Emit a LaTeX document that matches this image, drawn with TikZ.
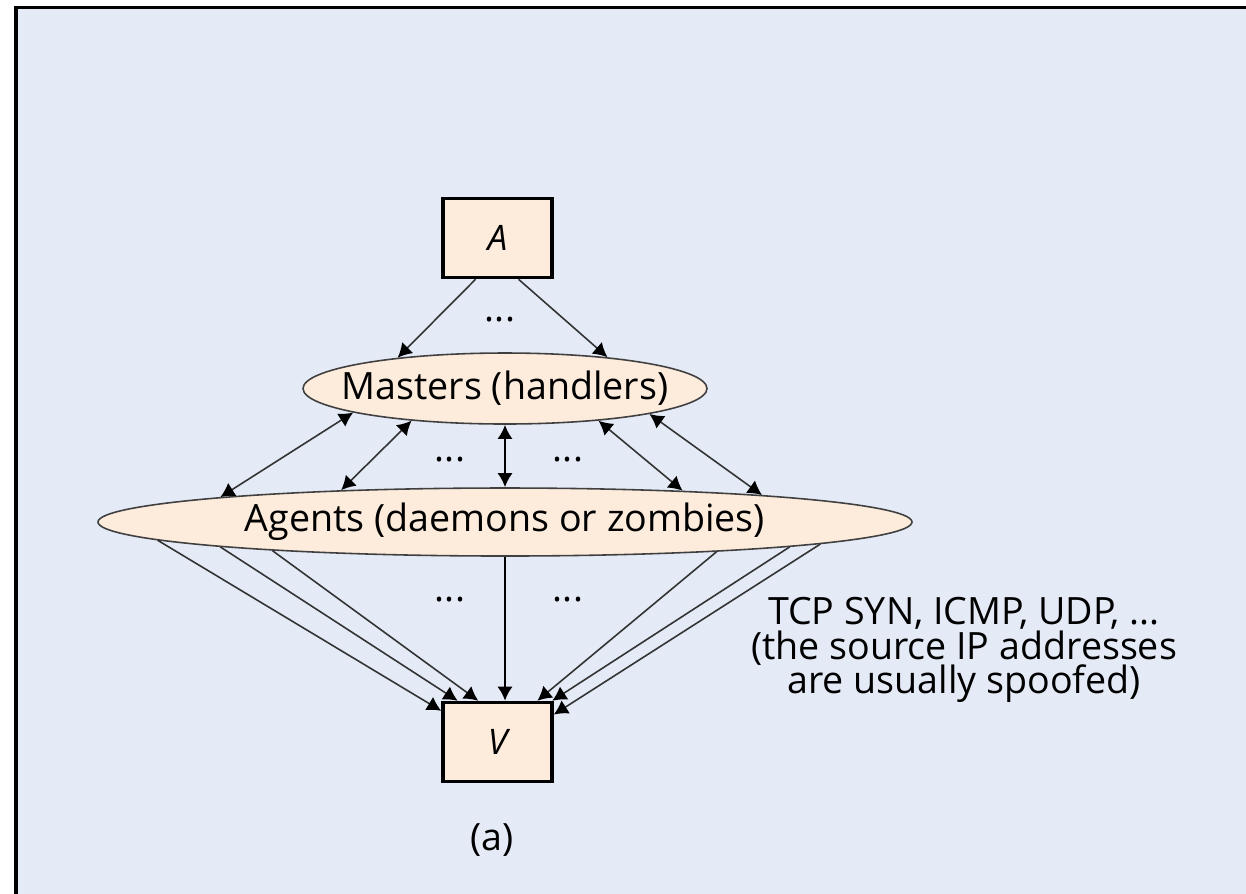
\documentclass[tikz,border=0pt]{standalone}
\usepackage{fontspec}
\setmainfont{Open Sans}
\usetikzlibrary{arrows.meta, shapes.geometric}
\definecolor{bgblue}{HTML}{E4EAF6}
\definecolor{peach}{HTML}{FDEBDC}
\tikzset{
  box/.style={draw, line width=1pt, fill=peach, minimum width=10.9mm, minimum height=7.9mm, inner sep=0pt, font=\itshape},
  ell/.style={ellipse, draw=black!75, line width=0.45pt, fill=peach, inner sep=0pt},
  arr/.style={-{Latex[length=4pt, width=4.4pt, color=black]}, line width=0.45pt, draw=black!80},
  darr/.style={{Latex[length=4pt, width=4.4pt, color=black]}-{Latex[length=4pt, width=4.4pt, color=black]}, line width=0.45pt, draw=black!80},
  varr/.style={line width=0.8pt, draw=black},
}

\begin{document}
\begin{tikzpicture}[x=0.1mm, y=-0.1mm, font=\fontsize{10.7}{12}\selectfont]
    \useasboundingbox (0,0) rectangle (1246,893);
    \fill[white] (0,0) rectangle (1246,893);
    \begin{scope}
      \clip (0,0) rectangle (1246,893);
      \draw[line width=0.35mm, fill=bgblue] (16,7.5) rectangle (1300,950);
    \end{scope}
    % nodes
    \node[box] (A) at (497.5,238) {A};
    \node[ell, minimum width=40.4mm, minimum height=7.1mm] (masters) at (505,388.5) {\makebox[0pt]{Masters (handlers)}};
    \node[ell, minimum width=81.4mm, minimum height=6.8mm] (agents) at (505,522) {\makebox[0pt]{Agents (daemons or zombies)}};
    \node[box] (V) at (497.5,742) {V};
    \node (note) at (964,650) [align=center, font={\fontsize{10.7}{9.8}\selectfont\lineskiplimit=-10pt\relax}] {TCP SYN, ICMP, UDP, ...\\(the source IP addresses\\are usually spoofed)};
    \node (cap) at (492,840) {(a)};
    % dots
    \node (d1) at (500,320) {...};
    \node (d2) at (450,460) {...};
    \node (d3) at (568,460) {...};
    \node (d4) at (450,600) {...};
    \node (d5) at (568,600) {...};
    % A to masters
    \draw[arr] (A.242.9) -- (masters.164.8);
    \draw[arr] (A.297.1) -- (masters.17.6);
    % masters and agents
    \draw[darr] (masters.189.7) -- (agents.175.4);
    \draw[darr] (masters.199.5) -- (agents.169.8);
    \draw[darr, varr] (masters.south) -- (agents.north);
    \draw[darr] (masters.341) -- (agents.10.8);
    \draw[darr] (masters.350.3) -- (agents.6.6);
    % agents to V
    \draw[arr] (agents.183.8) -- (V.151.6);
    \draw[arr] (agents.185.3) -- (V.134.7);
    \draw[arr] (agents.187.5) -- (V.115);
    \draw[arr, varr] (agents.south) -- (agents.south |- V.north);
    \draw[arr] (agents.352.8) -- (V.46.8);
    \draw[arr] (agents.355) -- (V.37.1);
    \draw[arr] (agents.356.8) -- (V.26.8);
\end{tikzpicture}
\end{document}
